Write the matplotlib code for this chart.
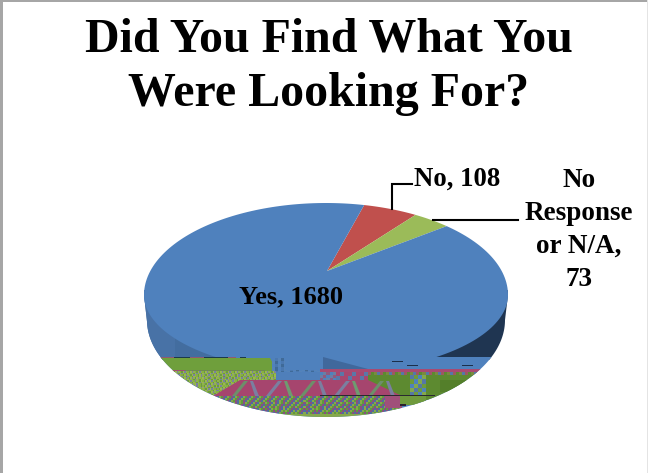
import numpy as np
import matplotlib
matplotlib.use("Agg")
import matplotlib.pyplot as plt
from matplotlib.colors import to_rgb
from matplotlib.patches import PathPatch, Polygon, Rectangle
from matplotlib.path import Path as MplPath

categories = ["Yes", "No", "No Response\nor N/A"]
values = [1680, 108, 73]
colors = ["#4f81bd", "#c0504d", "#9bbb59"]
title = "Did You Find What You\nWere Looking For?"

W, H = 648, 473
CX, CY, A = 326, 295, 182
B_UP, B_LOW = 92, 78
K = 0.2  # tilt, squeezes the far side of the pie
APEX = (327, 271)
START = 75.2
BODY_CY, BODY_A, BODY_B = 320, 179, 97

plt.rcParams["font.family"] = ["Liberation Serif", "DejaVu Serif"]
plt.rcParams["font.weight"] = "bold"


def rim(theta):
    x = np.cos(theta)
    y = np.sin(theta)
    w = 1 + K * y
    yp = (y + K) / w
    return CX + A * x * np.sqrt(1 - K**2) / w, CY - np.where(yp > 0, B_UP, B_LOW) * yp


def slice_points(a0, a1):
    px, py = rim(np.radians(np.linspace(a0, a1, 200)))
    return np.column_stack([np.r_[APEX[0], px], np.r_[APEX[1], py]])


fig = plt.figure(figsize=(W / 100, H / 100), dpi=100)
ax = fig.add_axes([0, 0, 1, 1])
ax.set_xlim(0, W)
ax.set_ylim(H, 0)
ax.set_autoscale_on(False)
ax.axis("off")

# chart frame
ax.add_patch(Rectangle((0, 0), 3, H, color="#a6a6a6", lw=0))
ax.add_patch(Rectangle((0, 0), W, 2.5, color="#a6a6a6", lw=0))
ax.add_patch(Rectangle((W - 1.5, 0), 1.5, H, color="#e4e4e4", lw=0))

# outline of the whole pie, everything on the side is clipped to it
up = np.radians(np.linspace(180, 0, 181))
down = np.radians(np.linspace(0, -180, 181))
hull = np.vstack([
    np.column_stack([CX + A * np.cos(up), CY - B_UP * np.sin(up)]),
    np.column_stack([CX + BODY_A * np.cos(down), BODY_CY - BODY_B * np.sin(down)]),
])
clip = PathPatch(MplPath(hull, closed=True), transform=ax.transData, fc="none", ec="none")
ax.add_patch(clip)


def block(x0, y0, x1, y1, color, z=3):
    r = Rectangle((x0, y0), x1 - x0, y1 - y0, fc=color, ec="none", zorder=z)
    ax.add_patch(r)
    r.set_clip_path(clip)


def poly(pts, color, z=3):
    p = Polygon(np.array(pts), closed=True, fc=color, ec="none", zorder=z)
    ax.add_patch(p)
    p.set_clip_path(clip)


def texture(x0, y0, x1, y1, cols, cell=1.5, shear=1, z=3):
    nx = int((x1 - x0) / cell)
    ny = int((y1 - y0) / cell)
    rgb = np.array([to_rgb(c) for c in cols])
    j, i = np.meshgrid(np.arange(nx), np.arange(ny))
    idx = (j + shear * i + (i // 3) * (j // 5)) % len(cols)
    im = ax.imshow(rgb[idx], extent=(x0, x1, y1, y0), aspect="auto", zorder=z,
                   interpolation="nearest")
    im.set_clip_path(clip)


# side walls
block(140, 290, 230, 360, "#436d9f", 1)
block(140, 290, 175, 360, "#4872a6", 1)
block(425, 290, 515, 360, "#1f3551", 1)

# pie top, from the values
angle = START
sizes = [v / sum(values) * 360 for v in values]
for i in [1, 2, 0]:
    ax.add_patch(Polygon(slice_points(angle, angle - sizes[i]), closed=True,
                         fc=colors[i], ec="none", zorder=2))
    angle -= sizes[i]

# corrupted lower part of the source image
block(145, 357, 510, 420, "#4f81bd")
block(160, 357, 236, 358.5, "#8f5a70")
for x0, x1 in [(174, 190), (204, 228), (240, 246)]:
    block(x0, 357, x1, 358.5, "#1c3a4a")
poly([(158, 358), (270, 358), (278, 372), (158, 372)], "#6f9f3c")
block(165, 370, 265, 372, "#6f8a50")
block(170, 370, 185, 371.5, "#a0506f")
texture(272, 358, 320, 380, ["#4f81bd", "#4a78b0", "#5583b8", "#3f6a98"], 3, 2)
block(285, 358, 320, 370, "#4f81bd")
poly([(323, 357), (323, 369), (368, 369)], "#40689c")
for x0, x1, y in [(392, 403, 361), (407, 418, 365), (462, 473, 365)]:
    block(x0, y, x1, y + 1, "#1b2f4a")
block(320, 369, 490, 372, "#a84a72")
texture(172, 372, 276, 396, ["#86b040", "#6d9a3c", "#9ab84e", "#7a7fa0", "#90b050"], 1.5, 2)
block(276, 372, 320, 381, "#4f7fba")
texture(320, 372, 336, 381, ["#4f81bd", "#6a7fa5", "#8f5a80"], 3, 1)
texture(336, 372, 368, 381, ["#a8476f", "#5a78a8", "#a8476f"], 4, 1)
block(368, 372, 490, 400, "#5d8a30")
texture(368, 372, 480, 375, ["#9c5a60", "#5d8a30", "#7a8a40", "#5577a8"], 3, 1)
texture(410, 376, 426, 405, ["#5577a8", "#6e9a3c", "#4f81bd", "#84a84c"], 4, 1)
block(440, 380, 490, 392, "#547f2a")

# magenta fan with slanted stripes
poly([(213, 396), (240, 380), (368, 380), (402, 396)], "#a6456e")
for n, x in enumerate(range(232, 396, 34)):
    poly([(x, 396), (x + 4, 396), (x + 16, 381), (x + 12, 381)], ["#6d8f6a", "#7a7fa0"][n % 2])
    poly([(x + 18, 381), (x + 21, 381), (x + 27, 396), (x + 23, 396)], ["#7a7fa0", "#6f9a70"][n % 2])

# dense checker at the bottom
texture(205, 396, 402, 414, ["#5f9a3c", "#8a4f80", "#4d6e9e", "#86a84a"], 2, 1)
block(385, 396, 402, 408, "#a0507a")
block(400, 396, 426, 405, "#6f9a3c")
block(400, 404, 406, 406, "#2a2030")
block(320, 395, 435, 396, "#2a2a30")
block(240, 414, 410, 420, "#86a84c")

# leader lines
ax.plot([392, 392, 412], [209, 184, 184], color="black", lw=1.5, zorder=4, solid_joinstyle="miter")
ax.plot([433, 518], [220, 220], color="black", lw=1.5, zorder=4)

# text
ax.text(329, 67, title, ha="center", va="center", fontsize=34.5, linespacing=1.31, color="black", zorder=5)
ax.text(291, 297, f"{categories[0]}, {values[0]}", ha="center", va="center", fontsize=19, zorder=5)
ax.text(457, 179, f"{categories[1]}, {values[1]}", ha="center", va="center", fontsize=19.3, zorder=5)
ax.text(579, 230, f"No\nResponse\nor N/A,\n{values[2]}", ha="center", va="center", fontsize=19.5, linespacing=1.42, zorder=5)

fig.savefig("out.png", dpi=100)
plt.close(fig)
